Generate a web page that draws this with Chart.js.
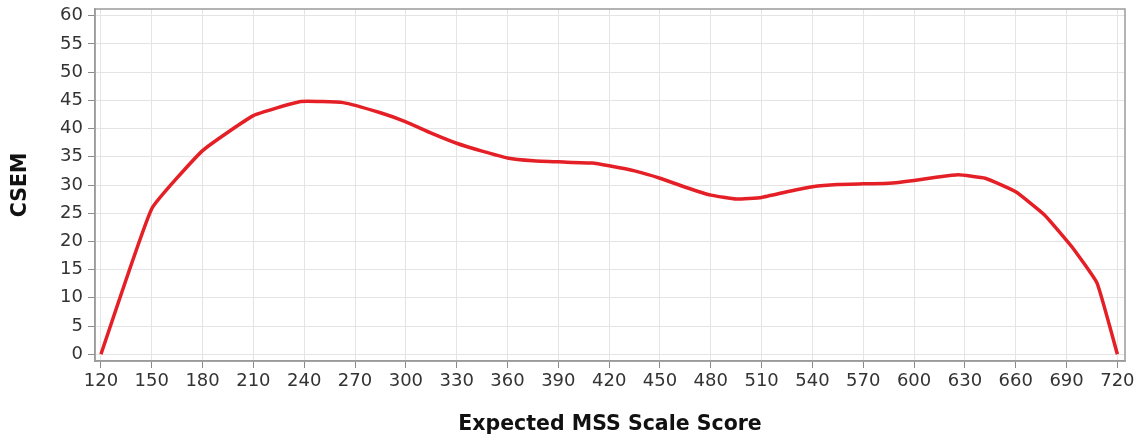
<!DOCTYPE html>
<html>
<head>
<meta charset="utf-8">
<script src="https://cdn.jsdelivr.net/npm/chart.js@4/dist/chart.umd.min.js"></script>
<style>
html,body{margin:0;padding:0;background:#fff;}
#wrap{width:1143px;height:443px;position:relative;}
</style>
</head>
<body>
<div id="wrap"><canvas id="c" width="1143" height="443"></canvas></div>
<script>
const scores = [120,150,180,210,238,263,285,300,315,330,345,360,375,390,410,420,435,450,465,480,495,510,525,540,555,570,585,600,614,626,642,660,677,693,708,720];
const csem   = [0,25.8,36.1,42.3,44.8,44.6,42.8,41.2,39.2,37.4,36.0,34.8,34.3,34.1,33.9,33.4,32.5,31.2,29.6,28.2,27.5,27.8,28.8,29.7,30.1,30.2,30.3,30.8,31.4,31.8,31.2,28.8,24.7,19.1,12.6,0];
const xTicks = [120,150,180,210,240,270,300,330,360,390,420,450,480,510,540,570,600,630,660,690,720];
const yTicks = [0,5,10,15,20,25,30,35,40,45,50,55,60];

const framePlugin = {
  id:'frame',
  afterDraw(chart){
    const a = chart.chartArea, ctx = chart.ctx;
    ctx.save();
    ctx.strokeStyle = '#9a9a9a';
    ctx.lineWidth = 1.5;
    ctx.strokeRect(a.left, a.top, a.right - a.left, a.bottom - a.top);
    ctx.restore();
  }
};

new Chart(document.getElementById('c'), {
  type:'line',
  data:{
    datasets:[{
      data: scores.map((s,i)=>({x:s, y:csem[i]})),
      borderColor:'#e41f26',
      borderWidth:3.5,
      pointRadius:0,
      tension:0.12,
      fill:false
    }]
  },
  options:{
    responsive:false,
    animation:false,
    layout:{padding:{top:9, right:18, left:8, bottom:6}},
    plugins:{legend:{display:false}, tooltip:{enabled:false}},
    scales:{
      x:{
        type:'linear',
        min:116.5, max:724.5,
        afterBuildTicks(s){ s.ticks = xTicks.map(v=>({value:v})); },
        afterFit(s){ s.height = 76; s.paddingLeft = 0; s.paddingRight = 0; },
        grid:{color:'#e4e4e4', tickColor:'#8a8a8a', tickLength:7, lineWidth:1},
        border:{display:true, color:'#9a9a9a', width:1.5},
        ticks:{color:'#333', font:{family:'DejaVu Sans', size:18}, padding:3, maxRotation:0, autoSkip:false},
        title:{display:true, text:'Expected MSS Scale Score', color:'#111', font:{family:'DejaVu Sans', size:20.5, weight:'bold'}, padding:{top:20, bottom:0}}
      },
      y:{
        type:'linear',
        min:-1.2, max:61.2,
        afterBuildTicks(s){ s.ticks = yTicks.map(v=>({value:v})); },
        afterFit(s){ s.width = 87; s.paddingTop = 0; s.paddingBottom = 0; },
        grid:{color:'#e4e4e4', tickColor:'#8a8a8a', tickLength:7, lineWidth:1},
        border:{display:true, color:'#9a9a9a', width:1.5},
        ticks:{color:'#333', font:{family:'DejaVu Sans', size:18}, padding:5, autoSkip:false},
        title:{display:true, text:'CSEM', color:'#111', font:{family:'DejaVu Sans', size:20.5, weight:'bold'}, padding:{top:0, bottom:4}}
      }
    }
  },
  plugins:[framePlugin]
});
</script>
</body>
</html>
